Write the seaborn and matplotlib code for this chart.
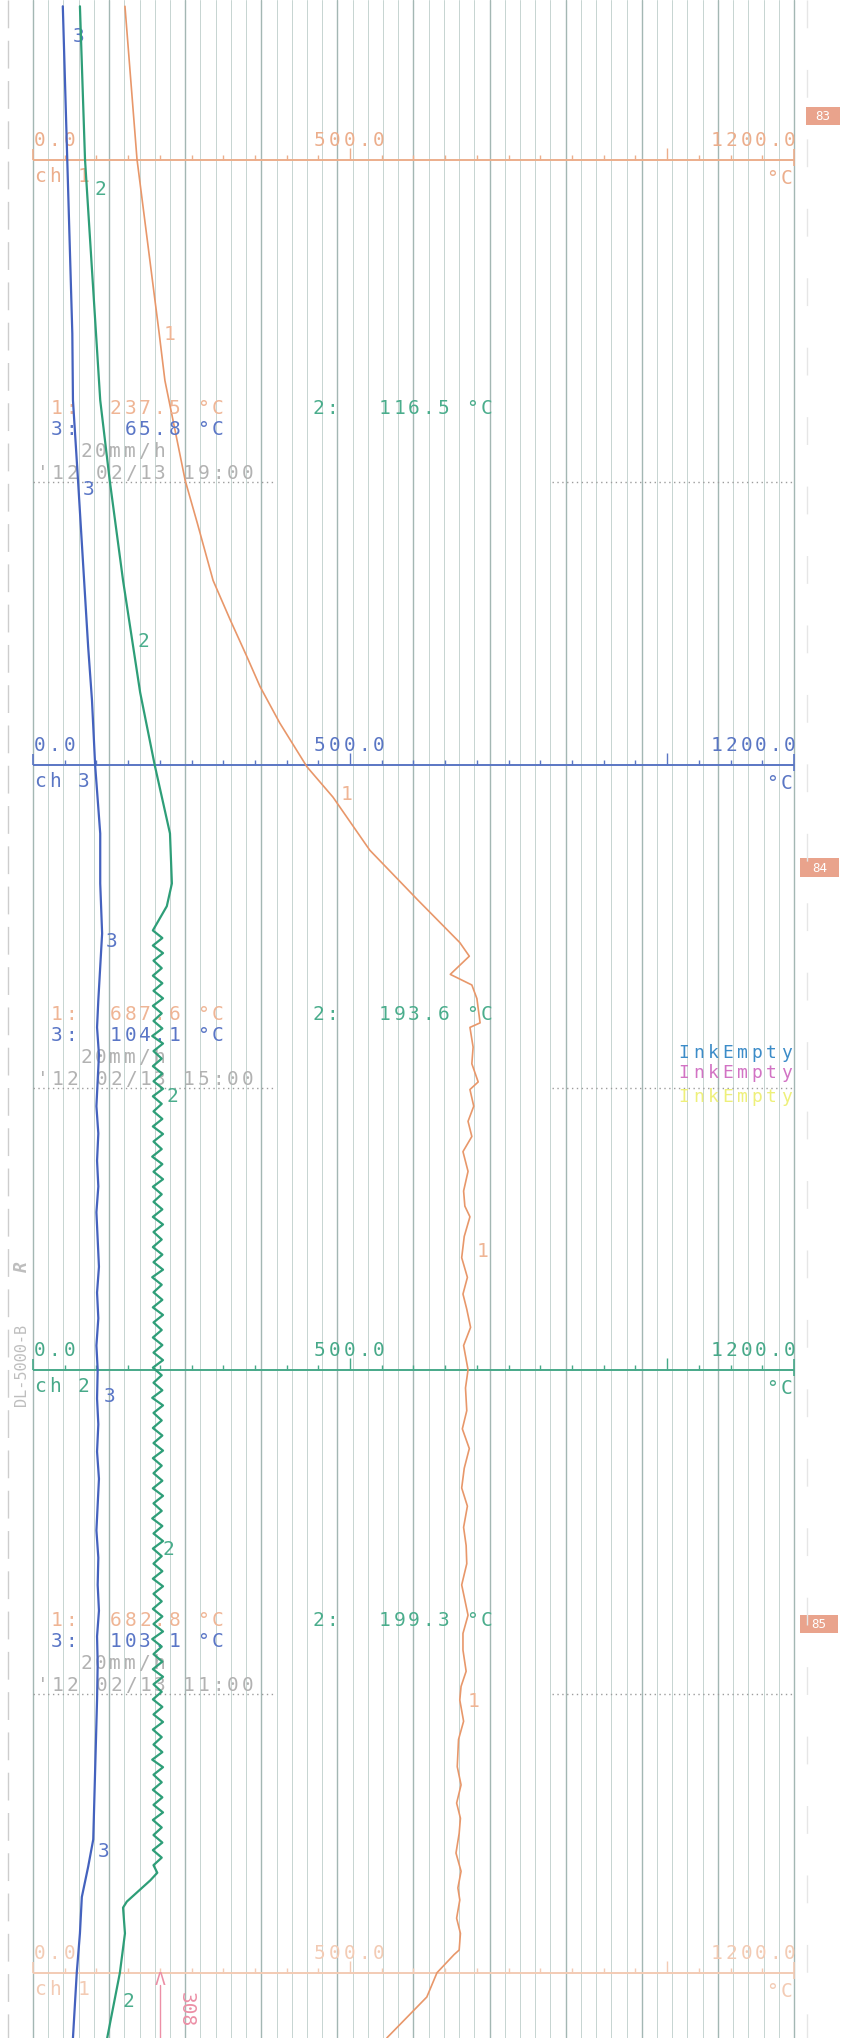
import numpy as np
import pandas as pd
import matplotlib
matplotlib.use('Agg')
import matplotlib.pyplot as plt
import seaborn as sns
from matplotlib import transforms
from matplotlib.patches import Rectangle

# --- recorder data (time in hours of 2012-02-13, temperature in degC) ---
ch1_time = [22.14, 21.13, 19.98, 19.67, 19.30, 19.01, 18.73, 18.35, 18.09, 17.85, 17.65, 17.41, 17.12,
            16.92, 16.57, 16.24, 15.96, 15.87, 15.75, 15.68, 15.59, 15.43, 15.40, 15.27, 15.16, 15.04,
            14.99, 14.88, 14.78, 14.68, 14.58, 14.45, 14.32, 14.22, 14.15, 14.02, 13.88, 13.75, 13.64,
            13.54, 13.42, 13.30, 13.14, 13.02, 12.87, 12.75, 12.62, 12.49, 12.36, 12.24, 12.10, 11.98,
            11.86, 11.72, 11.62, 11.52, 11.40, 11.29, 11.15, 11.05, 10.96, 10.82, 10.70, 10.52, 10.40,
            10.28, 10.18, 10.08, 9.95, 9.83, 9.72, 9.64, 9.52, 9.42, 9.31, 9.28, 9.16, 9.00, 8.73]
ch1_temp = [145, 164, 199, 208, 226, 240, 259, 284, 311, 337, 358, 389, 432,
            473, 531, 607, 673, 688, 658, 692, 700, 705, 689, 694, 692, 702,
            689, 695, 686, 692, 678, 686, 679, 681, 689, 680, 676, 685, 678,
            684, 690, 679, 686, 682, 684, 677, 688, 680, 676, 685, 679, 683,
            684, 676, 681, 686, 678, 678, 683, 675, 673, 679, 671, 669, 675,
            668, 674, 672, 667, 675, 670, 673, 668, 674, 672, 664, 637, 621, 558]

ch2_time_cool = [22.14, 21.13, 19.54, 19.01, 18.35, 17.61, 17.13, 16.68, 16.35, 16.20, 16.04]
ch2_temp_cool = [74, 82, 106, 121, 142, 169, 192, 216, 219, 211, 189]
# on/off cycling while held, one value per turning point of the pen
ch2_temp_hold = [204, 189, 205, 190, 203, 189, 204, 190, 205, 189, 203, 190, 204, 188, 205, 190, 203, 189, 204, 190,
                 205, 189, 203, 190, 204, 189, 205, 190, 203, 188, 204, 190, 205, 189, 203, 190, 204, 189, 205, 190,
                 203, 189, 204, 190, 205, 188, 203, 190, 204, 189, 205, 190, 203, 189, 204, 190, 205, 189, 203, 190,
                 204, 188, 205, 190, 203, 189, 204, 190, 205, 189, 203, 190, 204, 189, 205, 190, 203, 188, 204, 190,
                 205, 189, 203, 190, 204, 189, 205, 190, 203, 189, 204, 190, 205, 188, 203, 190, 204, 189, 205, 190,
                 203, 189, 204, 190, 205, 189, 203, 190, 204, 188, 205, 190, 203, 189, 204, 190, 205, 189, 203, 190,
                 204, 189, 203, 190]
ch2_hold_start, ch2_hold_end = 15.99, 9.87
ch2_time_heat = [9.82, 9.77, 9.63, 9.59, 9.42, 9.16, 8.73]
ch2_temp_heat = [196, 185, 148, 142, 145, 137, 117]

ch3_time = [22.14, 21.13, 19.98, 19.54, 19.01, 17.91, 17.56, 17.13, 16.68, 16.35, 16.02,
            15.58, 15.40, 15.22, 15.05, 14.88, 14.70, 14.52, 14.35, 14.18, 14.00, 13.82, 13.65, 13.48,
            13.30, 13.14, 12.95, 12.78, 12.60, 12.42, 12.25, 12.08, 11.90, 11.72, 11.55, 11.38, 11.20,
            10.96, 10.04, 9.86, 9.66, 9.42, 9.16, 8.73]
ch3_temp = [47, 54, 62, 63, 71, 87, 93, 98, 106, 106, 109,
            103, 101, 104, 102, 100, 103, 101, 103, 100, 102, 104, 101, 103,
            100, 102, 101, 103, 101, 104, 102, 100, 103, 102, 104, 101, 102,
            101, 95, 87, 77, 74, 69, 63]

header_times = [21.125, 17.13, 13.14, 9.16]
header_channels = [1, 3, 2, 1]

readout_times = [19.0, 15.0, 11.0]
readout_clock = ['19:00', '15:00', '11:00']
readout_ch1 = ['237.5', '687.6', '682.8']
readout_ch2 = ['116.5', '193.6', '199.3']
readout_ch3 = ['65.8', '104.1', '103.1']

# --- paper geometry ---
W, H = 854, 2038
X0, X1 = 33, 794          # pixel columns of 0 and 1200 degC
Y_REF, T_REF, PX_PER_H = 482, 19.0, 151.5
per_deg = (X1 - X0) / 1200

ORANGE, ORANGE_TXT = '#E8976A', '#EFB595'
GREEN, GREEN_TXT = '#2E9E78', '#4AAD8C'
BLUE, BLUE_TXT = '#4462BE', '#5A76C6'
GREY_TXT = '#B2B2B2'
header_colors = ['#ECAE8C', '#5A76C4', '#47A989', '#F3CBB4']

sns.set_style('white')
plt.rcParams['font.family'] = ['DejaVu Sans Mono', 'DejaVu Sans']

fig = plt.figure(figsize=(W / 100, H / 100), dpi=100)
ax = fig.add_axes([0, 0, 1, 1])
PX = transforms.Affine2D().scale(1 / W, -1 / H).translate(0, 1) + fig.transFigure


def ypx(t):
    return Y_REF + (T_REF - t) * PX_PER_H


def mono(x, y, s, color, size=14, pitch=14.6):
    for i, c in enumerate(s):
        if c != ' ':
            ax.text(x + i * pitch, y, c, transform=PX, ha='center', va='baseline',
                    color=color, fontsize=size, family='DejaVu Sans Mono')


# paper grid: 50 divisions, every 5th darker
for i, T in enumerate(np.arange(0, 1201, 24)):
    major = i % 5 == 0
    ax.axvline(T, color='#A3B7B3' if major else '#C6D4D1', lw=1.0 if major else 0.7, zorder=0)

# paper edge perforation marks
ax.plot([8, 8], [0, H], transform=PX, color='#CDCDCD', lw=1, ls=(0, (20, 9)))
ax.plot([807, 807], [0, H], transform=PX, color='#E6E6E6', lw=1, ls=(0, (20, 30)))

# scale headers
for t_h, ch, col in zip(header_times, header_channels, header_colors):
    ax.hlines(t_h, 0, 1200, color=col, lw=1.4, zorder=2)
    for T in range(50, 1200, 50):
        h = 12 if T % 500 == 0 else 5
        ax.vlines(T, t_h, t_h + h / PX_PER_H, color=col, lw=1, zorder=2)
    ax.vlines(0, t_h, t_h + 11 / PX_PER_H, color=col, lw=1.2)
    ax.vlines(1200, t_h - 6 / PX_PER_H, t_h + 11 / PX_PER_H, color=col, lw=1.2)
    y = ypx(t_h)
    mono(40, y - 14, '0.0', col)
    mono(320, y - 14, '500.0', col)
    mono(717, y - 14, '1200.0', col)
    mono(40, y + 22, f'ch {ch}', col)
    mono(772, y + 24, '°C', col, pitch=15)

# traces
df1 = pd.DataFrame({'time': ch1_time, 'temp': ch1_temp})
ch2_time = ch2_time_cool + list(np.linspace(ch2_hold_start, ch2_hold_end, len(ch2_temp_hold))) + ch2_time_heat
df2 = pd.DataFrame({'time': ch2_time, 'temp': ch2_temp_cool + ch2_temp_hold + ch2_temp_heat})
df3 = pd.DataFrame({'time': ch3_time, 'temp': ch3_temp})
sns.lineplot(data=df1, x='temp', y='time', sort=False, estimator=None, color=ORANGE, lw=1.2, ax=ax, zorder=3)
sns.lineplot(data=df2, x='temp', y='time', sort=False, estimator=None, color=GREEN, lw=1.6, ax=ax, zorder=4)
sns.lineplot(data=df3, x='temp', y='time', sort=False, estimator=None, color=BLUE, lw=1.6, ax=ax, zorder=4)

# channel numbers printed along the traces
for x, y in [(170, 333), (347, 793), (483, 1250), (474, 1700)]:
    mono(x, y + 7, '1', ORANGE_TXT)
for x, y in [(100, 188), (143, 640), (172, 1095), (168, 1548), (128, 2000)]:
    mono(x, y + 7, '2', GREEN_TXT)
for x, y in [(79, 35), (89, 488), (112, 940), (110, 1395), (104, 1850)]:
    mono(x, y + 7, '3', BLUE_TXT)

# periodic digital readouts
for t_r, hhmm, v1, v2, v3 in zip(readout_times, readout_clock, readout_ch1, readout_ch2, readout_ch3):
    y = ypx(t_r)
    s1, s2, s3 = v1 + ' °C', v2 + ' °C', v3 + ' °C'
    mono(57, y - 68, '1:', ORANGE_TXT)
    mono(218 - (len(s1) - 1) * 14.6, y - 68, s1, ORANGE_TXT)
    mono(318, y - 68, '2:', GREEN_TXT)
    mono(487 - (len(s2) - 1) * 14.6, y - 68, s2, GREEN_TXT)
    mono(57, y - 47, '3:', BLUE_TXT)
    mono(218 - (len(s3) - 1) * 14.6, y - 47, s3, BLUE_TXT)
    mono(86, y - 25, '20mm/h', GREY_TXT)
    mono(43, y - 3, "'12 02/13 " + hhmm, GREY_TXT)
    ax.plot([33, 273], [y, y], transform=PX, color='#9C9C9C', lw=1, ls=(0, (1, 2.5)))
    ax.plot([552, 794], [y, y], transform=PX, color='#9C9C9C', lw=1, ls=(0, (1, 2.5)))

# ink warnings
mono(684, 1058, 'InkEmpty', '#3C8CC8', size=13)
mono(684, 1078, 'InkEmpty', '#D273C4', size=13)
mono(684, 1102, 'InkEmpty', '#EEF07A', size=13)

# chart page numbers
for label, (x, y, w, h) in zip(['83', '84', '85'], [(806, 107, 34, 18), (800, 858, 39, 19), (800, 1615, 38, 18)]):
    ax.add_patch(Rectangle((x, y), w, h, transform=PX, facecolor='#E9A38C', edgecolor='none'))
    ax.text(x + w / 2, y + h / 2 + 1, label, transform=PX, ha='center', va='center', color='white', fontsize=9)

# paper imprint and pen start mark
ax.text(22, 1365, 'DL-5000-B', transform=PX, rotation=90, ha='center', va='center',
        color='#BEBEBE', fontsize=11, family='DejaVu Sans Mono')
ax.text(22, 1267, 'R', transform=PX, rotation=90, ha='center', va='center',
        color='#BEBEBE', fontsize=13, style='italic', weight='bold')
ax.text(160, 1985, 'Λ', transform=PX, ha='center', va='baseline', color='#EC8FA6', fontsize=13)
ax.plot([160, 160], [1985, H], transform=PX, color='#EC8FA6', lw=1)
ax.text(186, 2010, '308', transform=PX, rotation=-90, ha='center', va='center', color='#EC8FA6', fontsize=14)

ax.set_xlim(-X0 / per_deg, 1200 + (W - X1) / per_deg)
ax.set_ylim(T_REF - (H - Y_REF) / PX_PER_H, T_REF + Y_REF / PX_PER_H)
ax.set_axis_off()

fig.savefig('out.png', dpi=100, facecolor='white')
